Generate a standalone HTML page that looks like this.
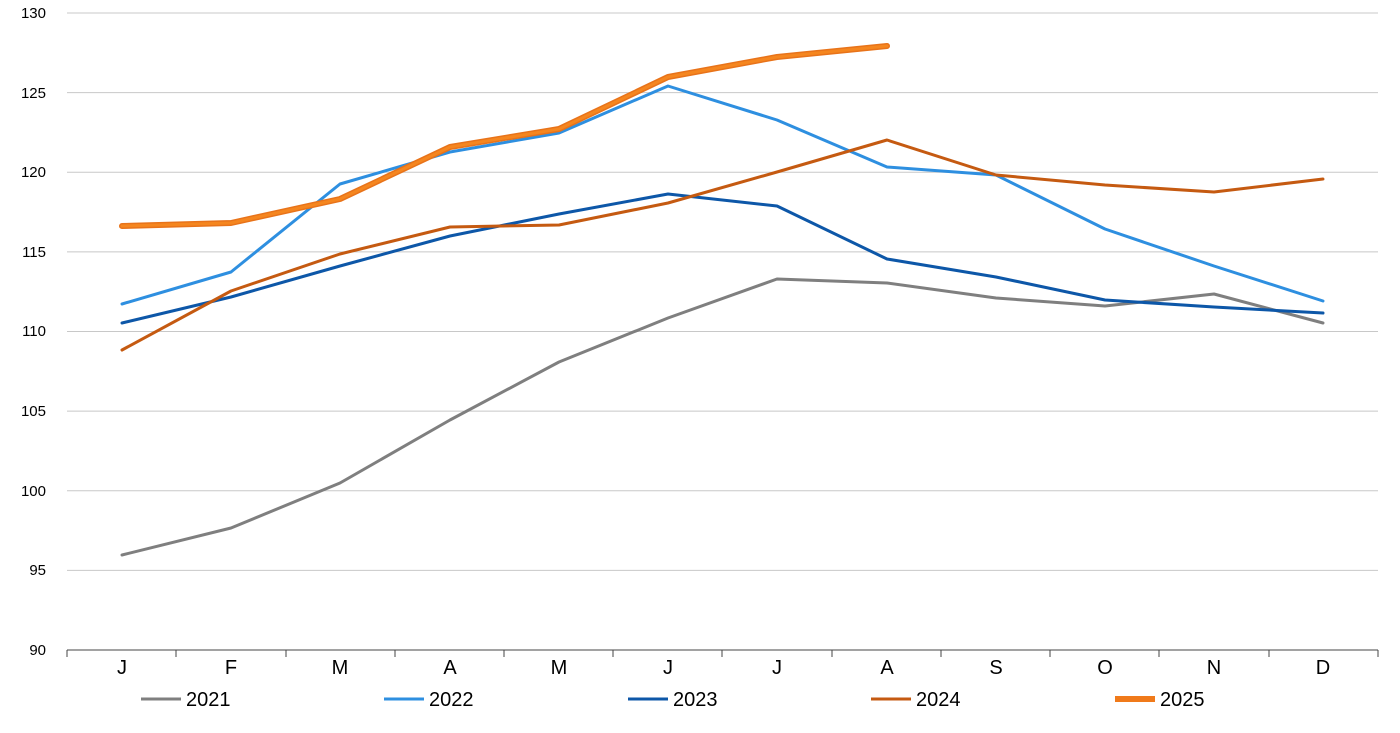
<!DOCTYPE html>
<html><head><meta charset="utf-8"><style>
html,body{margin:0;padding:0;background:#fff;}
svg{display:block;font-family:"Liberation Sans",Arial,sans-serif;}
</style></head><body>
<svg width="1400" height="733" viewBox="0 0 1400 733">
<g stroke="#c8c8c8" stroke-width="1">
<line x1="67" y1="13" x2="1378" y2="13"/>
<line x1="67" y1="92.6" x2="1378" y2="92.6"/>
<line x1="67" y1="172.3" x2="1378" y2="172.3"/>
<line x1="67" y1="251.9" x2="1378" y2="251.9"/>
<line x1="67" y1="331.5" x2="1378" y2="331.5"/>
<line x1="67" y1="411.1" x2="1378" y2="411.1"/>
<line x1="67" y1="490.8" x2="1378" y2="490.8"/>
<line x1="67" y1="570.4" x2="1378" y2="570.4"/>
</g>
<g stroke="#444" stroke-width="1">
<line x1="67" y1="650" x2="1378" y2="650"/>
<line x1="67" y1="650" x2="67" y2="657"/><line x1="176" y1="650" x2="176" y2="657"/><line x1="286" y1="650" x2="286" y2="657"/><line x1="395" y1="650" x2="395" y2="657"/><line x1="504" y1="650" x2="504" y2="657"/><line x1="613" y1="650" x2="613" y2="657"/><line x1="722" y1="650" x2="722" y2="657"/><line x1="832" y1="650" x2="832" y2="657"/><line x1="941" y1="650" x2="941" y2="657"/><line x1="1050" y1="650" x2="1050" y2="657"/><line x1="1159" y1="650" x2="1159" y2="657"/><line x1="1269" y1="650" x2="1269" y2="657"/><line x1="1378" y1="650" x2="1378" y2="657"/>
</g>
<g font-size="15" fill="#000" text-anchor="end">
<text x="46" y="18">130</text><text x="46" y="98">125</text><text x="46" y="177">120</text><text x="46" y="257">115</text><text x="46" y="336">110</text><text x="46" y="416">105</text><text x="46" y="496">100</text><text x="46" y="575">95</text><text x="46" y="655">90</text>
</g>
<g font-size="20" fill="#000" text-anchor="middle">
<text x="122" y="674">J</text><text x="231" y="674">F</text><text x="340" y="674">M</text><text x="450" y="674">A</text><text x="559" y="674">M</text><text x="668" y="674">J</text><text x="777" y="674">J</text><text x="887" y="674">A</text><text x="996" y="674">S</text><text x="1105" y="674">O</text><text x="1214" y="674">N</text><text x="1323" y="674">D</text>
</g>
<g fill="none" stroke-linejoin="round" stroke-linecap="round">
<polyline stroke="#7f7f7f" stroke-width="3" points="122,555 231,528 340,483 450,420 559,362 668,318 777,279 887,283 996,298 1105,306 1214,294 1323,323"/>
<polyline stroke="#2e8fe0" stroke-width="3" points="122,304 231,272 340,184 450,152 559,133 668,86 777,120 887,167 996,175 1105,229 1214,266 1323,301"/>
<polyline stroke="#0d57a8" stroke-width="3" points="122,323 231,297 340,266 450,236 559,214 668,194 777,206 887,259 996,277 1105,300 1214,307 1323,313"/>
<polyline stroke="#c55a11" stroke-width="3" points="122,350 231,291 340,254 450,227 559,225 668,203 777,172 887,140 996,175 1105,185 1214,192 1323,179"/>
<polyline stroke="#e8731a" stroke-width="6" points="122,226 231,223 340,199 450,147 559,129 668,77 777,57 887,46"/>
<polyline stroke="#f5861f" stroke-width="3" points="122,226 231,223 340,199 450,147 559,129 668,77 777,57 887,46"/>
</g>
<g font-size="20" fill="#000">
<line x1="141" y1="699" x2="181" y2="699" stroke="#7f7f7f" stroke-width="3"/><text x="186" y="706">2021</text>
<line x1="384" y1="699" x2="424" y2="699" stroke="#2e8fe0" stroke-width="3"/><text x="429" y="706">2022</text>
<line x1="628" y1="699" x2="668" y2="699" stroke="#0d57a8" stroke-width="3"/><text x="673" y="706">2023</text>
<line x1="871" y1="699" x2="911" y2="699" stroke="#c55a11" stroke-width="3"/><text x="916" y="706">2024</text>
<line x1="1115" y1="699" x2="1155" y2="699" stroke="#f07a1a" stroke-width="6"/><text x="1160" y="706">2025</text>
</g>
</svg>
</body></html>
